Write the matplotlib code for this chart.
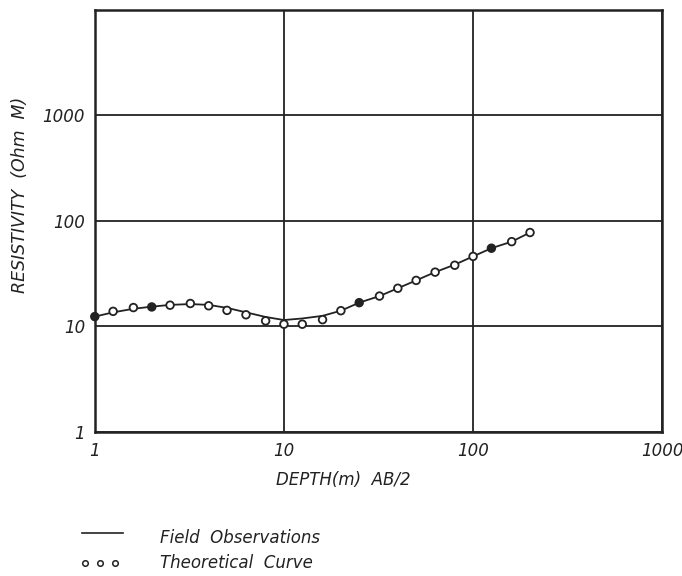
import matplotlib
matplotlib.use('Agg')
import matplotlib.pyplot as plt
from matplotlib.lines import Line2D

# depth AB/2 (m)
depth = [1, 1.25, 1.6, 2, 2.5, 3.2, 4, 5, 6.3, 8, 10, 12.5, 16, 20, 25,
         32, 40, 50, 63, 80, 100, 125, 160, 200]
# field observations (solid line)
field_rho = [12.4, 13.6, 14.7, 15.4, 16.0, 16.3, 16.0, 15.0, 13.6, 12.3, 11.5,
             11.9, 12.6, 14.1, 16.8, 19.4, 23.0, 27.3, 32.7, 38.5, 46.1, 55.1,
             63.6, 77.6]
# theoretical curve (circles)
theo_rho = [12.4, 13.9, 15.1, 15.3, 15.9, 16.5, 15.7, 14.2, 12.9, 11.3, 10.5,
            10.5, 11.6, 14.1, 16.8, 19.4, 23.0, 27.3, 32.7, 38.0, 46.1, 55.1,
            63.6, 77.6]
filled = [1, 2, 25, 125]

x_ticks = [1, 10, 100, 1000]
y_ticks = [1, 10, 100, 1000]

ink = '#222222'
font = dict(family='DejaVu Sans', style='italic', color=ink)

fig = plt.figure(figsize=(6.82, 5.76), dpi=100)
ax = fig.add_axes([0.139, 0.25, 0.832, 0.733])
ax.set_xscale('log')
ax.set_yscale('log')
ax.set_xlim(1, 1000)
ax.set_ylim(1, 10000)

ax.plot(depth, field_rho, color=ink, lw=1.3, zorder=3)
fc = [ink if d in filled else 'white' for d in depth]
ax.scatter(depth, theo_rho, s=30, facecolors=fc, edgecolors=ink,
           linewidths=1.3, zorder=4, clip_on=False)

ax.set_xticks(x_ticks)
ax.set_yticks(y_ticks)
ax.minorticks_off()
ax.set_xticklabels([str(t) for t in x_ticks], fontsize=12, **font)
ax.set_yticklabels([str(t) for t in y_ticks], fontsize=12, **font)
ax.tick_params(length=0, pad=7)
ax.grid(True, color=ink, lw=1.3)
for s in ax.spines.values():
    s.set_linewidth(1.8)
    s.set_color(ink)

fig.text(0.503, 0.166, 'DEPTH(m)  AB/2', fontsize=12, ha='center',
         va='center', **font)
fig.text(0.03, 0.662, 'RESISTIVITY  (Ohm  M)', fontsize=12.5, rotation=90,
         ha='center', va='center', **font)

# legend drawn below the axes
fig.add_artist(Line2D([0.12, 0.18], [0.075, 0.075], color=ink, lw=1.2))
for xx in [0.125, 0.147, 0.169]:
    fig.add_artist(Line2D([xx], [0.023], marker='o', ms=4, mfc='white',
                          mec=ink, mew=1.1))
fig.text(0.235, 0.066, 'Field  Observations', fontsize=12, va='center', **font)
fig.text(0.235, 0.023, 'Theoretical  Curve', fontsize=12, va='center', **font)

fig.savefig('out.png', dpi=100)
